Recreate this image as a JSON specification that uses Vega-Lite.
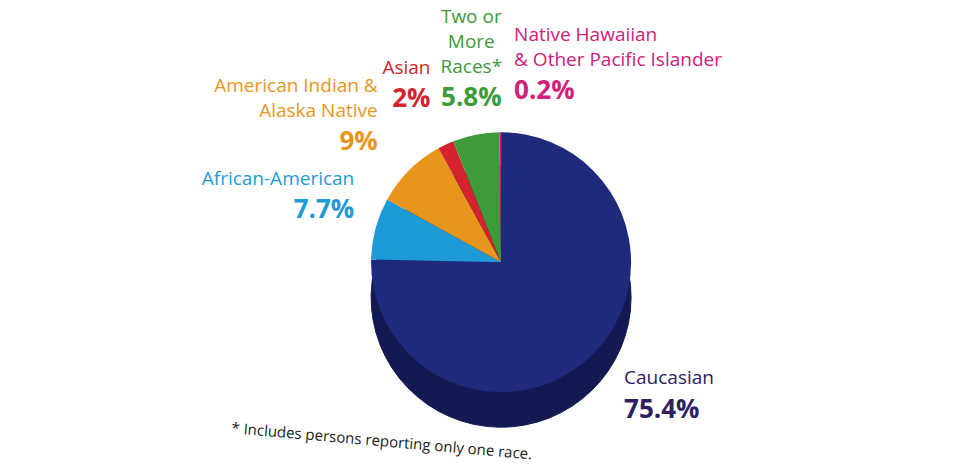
{
  "$schema": "https://vega.github.io/schema/vega-lite/v6.json",
  "width": 964,
  "height": 468,
  "autosize": {"type": "fit", "contains": "padding"},
  "padding": 5,
  "background": "white",
  "config": {"view": {"stroke": null}, "font": "Open Sans"},
  "title": {
    "text": "* Includes persons reporting only one race.",
    "orient": "bottom",
    "anchor": "middle",
    "dx": -100,
    "angle": 5,
    "fontSize": 15,
    "fontWeight": "normal",
    "color": "#222222",
    "font": "Open Sans",
    "offset": 2
  },
  "data": {
    "values": [
      {"category": "Caucasian", "name": "Caucasian", "pct": "75.4%", "value": 75.4, "order": 1},
      {"category": "African-American", "name": "African-American", "pct": "7.7%", "value": 7.7, "order": 2},
      {"category": "American Indian & Alaska Native", "name": "American Indian &\nAlaska Native", "pct": "9%", "value": 9, "order": 3},
      {"category": "Asian", "name": "Asian", "pct": "2%", "value": 2, "order": 4},
      {"category": "Two or More Races", "name": "Two or\nMore\nRaces*", "pct": "5.8%", "value": 5.8, "order": 5},
      {"category": "Native Hawaiian & Other Pacific Islander", "name": "Native Hawaiian\n& Other Pacific Islander", "pct": "0.2%", "value": 0.2, "order": 6}
    ]
  },
  "encoding": {
    "theta": {"field": "value", "type": "quantitative", "stack": true},
    "order": {"field": "order", "type": "quantitative"},
    "color": {
      "field": "category",
      "type": "nominal",
      "legend": null,
      "scale": {
        "domain": ["Caucasian", "African-American", "American Indian & Alaska Native", "Asian", "Two or More Races", "Native Hawaiian & Other Pacific Islander"],
        "range": ["#2d2163", "#1e9bd7", "#e8951d", "#d4232e", "#3d9b39", "#d0207a"]
      }
    }
  },
  "layer": [
    {
      "mark": {"type": "arc", "outerRadius": 130, "x": {"expr": "width*0.52"}, "y": {"expr": "height*0.59+35"}, "stroke": "#131a52", "strokeWidth": 1},
      "encoding": {"color": {"value": "#131a52"}}
    },
    {
      "mark": {"type": "arc", "outerRadius": 130, "x": {"expr": "width*0.52"}, "y": {"expr": "height*0.59"}},
      "encoding": {
        "color": {
          "condition": {"test": "datum.category === 'Caucasian'", "value": "#1f2a7c"},
          "field": "category",
          "type": "nominal",
          "legend": null
        }
      }
    },
    {
      "mark": {"type": "text", "radius": 152, "x": {"expr": "width*0.52"}, "y": {"expr": "height*0.59"}, "align": "right", "baseline": "bottom", "dy": -34, "fontSize": 19, "lineBreak": "\n", "lineHeight": 25},
      "encoding": {"text": {"condition": {"test": "datum.category === 'African-American'", "field": "name"}, "value": ""}}
    },
    {
      "mark": {"type": "text", "radius": 152, "x": {"expr": "width*0.52"}, "y": {"expr": "height*0.59"}, "align": "right", "baseline": "bottom", "fontSize": 26, "fontWeight": "bold"},
      "encoding": {"text": {"condition": {"test": "datum.category === 'African-American'", "field": "pct"}, "value": ""}}
    },
    {
      "mark": {"type": "text", "radius": 152, "x": {"expr": "width*0.52"}, "y": {"expr": "height*0.59"}, "align": "right", "baseline": "bottom", "dx": -16, "dy": -59, "fontSize": 19, "lineBreak": "\n", "lineHeight": 25},
      "encoding": {"text": {"condition": {"test": "datum.category === 'American Indian & Alaska Native'", "field": "name"}, "value": ""}}
    },
    {
      "mark": {"type": "text", "radius": 152, "x": {"expr": "width*0.52"}, "y": {"expr": "height*0.59"}, "align": "right", "baseline": "bottom", "dx": -16, "fontSize": 26, "fontWeight": "bold"},
      "encoding": {"text": {"condition": {"test": "datum.category === 'American Indian & Alaska Native'", "field": "pct"}, "value": ""}}
    },
    {
      "mark": {"type": "text", "radius": 166, "x": {"expr": "width*0.52"}, "y": {"expr": "height*0.59"}, "align": "right", "baseline": "bottom", "dy": -34, "fontSize": 19, "lineBreak": "\n", "lineHeight": 25},
      "encoding": {"text": {"condition": {"test": "datum.category === 'Asian'", "field": "name"}, "value": ""}}
    },
    {
      "mark": {"type": "text", "radius": 166, "x": {"expr": "width*0.52"}, "y": {"expr": "height*0.59"}, "align": "right", "baseline": "bottom", "fontSize": 26, "fontWeight": "bold"},
      "encoding": {"text": {"condition": {"test": "datum.category === 'Asian'", "field": "pct"}, "value": ""}}
    },
    {
      "mark": {"type": "text", "radius": 154, "x": {"expr": "width*0.52"}, "y": {"expr": "height*0.59"}, "align": "center", "baseline": "bottom", "dy": -84, "fontSize": 19, "lineBreak": "\n", "lineHeight": 25},
      "encoding": {"text": {"condition": {"test": "datum.category === 'Two or More Races'", "field": "name"}, "value": ""}}
    },
    {
      "mark": {"type": "text", "radius": 154, "x": {"expr": "width*0.52"}, "y": {"expr": "height*0.59"}, "align": "center", "baseline": "bottom", "fontSize": 26, "fontWeight": "bold"},
      "encoding": {"text": {"condition": {"test": "datum.category === 'Two or More Races'", "field": "pct"}, "value": ""}}
    },
    {
      "mark": {"type": "text", "radius": 158, "x": {"expr": "width*0.52"}, "y": {"expr": "height*0.59"}, "align": "left", "baseline": "bottom", "dx": 14, "dy": -59, "fontSize": 19, "lineBreak": "\n", "lineHeight": 25},
      "encoding": {"text": {"condition": {"test": "datum.category === 'Native Hawaiian & Other Pacific Islander'", "field": "name"}, "value": ""}}
    },
    {
      "mark": {"type": "text", "radius": 158, "x": {"expr": "width*0.52"}, "y": {"expr": "height*0.59"}, "align": "left", "baseline": "bottom", "dx": 14, "fontSize": 26, "fontWeight": "bold"},
      "encoding": {"text": {"condition": {"test": "datum.category === 'Native Hawaiian & Other Pacific Islander'", "field": "pct"}, "value": ""}}
    },
    {
      "mark": {"type": "text", "radius": 150, "x": {"expr": "width*0.52"}, "y": {"expr": "height*0.59"}, "align": "left", "baseline": "top", "dx": 18, "fontSize": 19},
      "encoding": {"text": {"condition": {"test": "datum.category === 'Caucasian'", "field": "name"}, "value": ""}}
    },
    {
      "mark": {"type": "text", "radius": 150, "x": {"expr": "width*0.52"}, "y": {"expr": "height*0.59"}, "align": "left", "baseline": "top", "dx": 18, "dy": 28, "fontSize": 26, "fontWeight": "bold"},
      "encoding": {"text": {"condition": {"test": "datum.category === 'Caucasian'", "field": "pct"}, "value": ""}}
    }
  ]
}
